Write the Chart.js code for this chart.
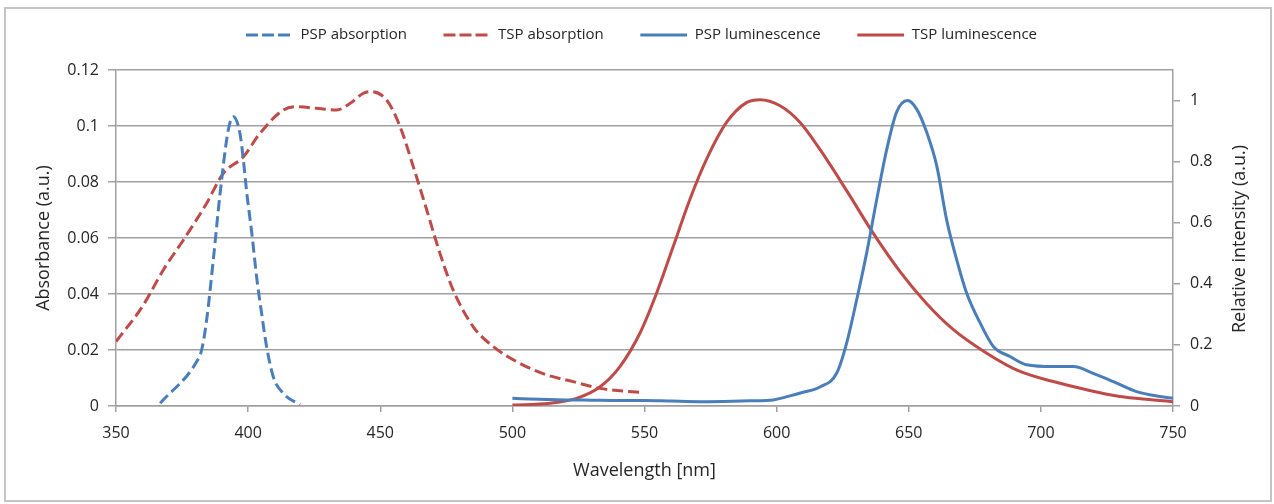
<!DOCTYPE html>
<html>
<head>
<meta charset="utf-8">
<script src="https://cdn.jsdelivr.net/npm/chart.js@4.4.1/dist/chart.umd.min.js"></script>
<style>
  html, body { margin: 0; padding: 0; background: #ffffff; }
  #wrap { position: relative; width: 1274px; height: 504px; }
</style>
</head>
<body>
<div id="wrap"><canvas id="c" width="1274" height="504"></canvas></div>
<script>
// ---------------- DATA ----------------
const seriesNames = ['PSP absorption', 'TSP absorption', 'PSP luminescence', 'TSP luminescence'];

// PSP absorption (left axis)
const pspAbsWl  = [366.7, 380.5, 382.4, 384.3, 386.8, 389.4, 392.5, 394.4, 396.9, 398.2, 399.5, 401.4, 403.2, 405.1, 407.0, 409.5, 413.3, 419.6];
const pspAbsVal = [0.001, 0.0158, 0.02, 0.0307, 0.052, 0.076, 0.0986, 0.1033, 0.0974, 0.0879, 0.076, 0.0617, 0.0462, 0.0331, 0.0212, 0.0105, 0.0045, 0.0004];

// TSP absorption (left axis)
const tspAbsWl  = [350, 360.3, 367.9, 375.5, 384.3, 390.6, 398.2, 404.5, 413.3, 418.3, 425.9, 433.5, 438.5, 443.6, 446.1, 452.4, 457.5, 462.5, 467.6, 472.6, 477.6, 485.2, 492.8, 502.9, 513.0, 523.0, 533.2, 549.6];
const tspAbsVal = [0.023, 0.036, 0.0486, 0.0593, 0.0724, 0.0831, 0.089, 0.0974, 0.1057, 0.1069, 0.1063, 0.1057, 0.108, 0.1117, 0.1123, 0.1093, 0.0998, 0.0855, 0.070, 0.0545, 0.0414, 0.0283, 0.0212, 0.0152, 0.0111, 0.0087, 0.0063, 0.0048];

// PSP luminescence (right axis)
const pspLumWl  = [500, 510, 520, 530, 540, 550, 560, 571, 580, 590, 598.7, 605, 610, 616.4, 622.7, 626.5, 630.3, 634.1, 637.9, 641.7, 645.4, 649.5, 653.0, 656.8, 660.6, 664.3, 668.1, 671.9, 677.0, 682.0, 688.3, 694.6, 704.7, 712.3, 719.8, 727.4, 736.2, 745.0, 750];
const pspLumVal = [0.025, 0.022, 0.020, 0.019, 0.018, 0.018, 0.016, 0.014, 0.015, 0.017, 0.020, 0.033, 0.045, 0.062, 0.107, 0.206, 0.348, 0.502, 0.677, 0.841, 0.962, 1.000, 0.972, 0.896, 0.786, 0.611, 0.480, 0.370, 0.272, 0.195, 0.162, 0.135, 0.129, 0.129, 0.107, 0.080, 0.047, 0.031, 0.025];

// TSP luminescence (right axis)
const tspLumWl  = [500, 514.2, 524.3, 533.2, 540.7, 548.3, 554.6, 560.9, 567.2, 573.5, 581.1, 588.7, 593.7, 601.3, 608.8, 616.4, 626.5, 636.6, 646.7, 656.8, 666.9, 679.5, 692.1, 704.7, 717.3, 729.9, 742.6, 750];
const tspLumVal = [0.003, 0.009, 0.025, 0.063, 0.129, 0.239, 0.370, 0.523, 0.677, 0.808, 0.929, 0.994, 1.003, 0.983, 0.929, 0.840, 0.705, 0.565, 0.440, 0.335, 0.250, 0.173, 0.113, 0.080, 0.053, 0.031, 0.020, 0.014];

// Axis ranges / ticks
const xMin = 350, xMax = 750, xStep = 50;
const leftMin = 0, leftMax = 0.12, leftStep = 0.02;
const rightMin = 0, rightMax = 1.1, rightStep = 0.2;
const xTitle = 'Wavelength [nm]';
const leftTitle = 'Absorbance (a.u.)';
const rightTitle = 'Relative intensity (a.u.)';

// ---------------- STYLE ----------------
const BLUE = '#4A7EBB';
const RED = '#BE4B48';
const GRID = '#a0a0a0';
const TEXT = '#262626';
const FONT = "'Open Sans', 'Noto Sans', sans-serif";

function pts(xs, ys) { return xs.map((x, i) => ({ x: x, y: ys[i] })); }

function legendSample(color, dashed) {
  const c = document.createElement('canvas');
  c.width = 56; c.height = 4;
  const g = c.getContext('2d');
  g.strokeStyle = color; g.lineWidth = 3;
  if (dashed) g.setLineDash([12, 4]);
  g.beginPath(); g.moveTo(9, 2); g.lineTo(56, 2); g.stroke();
  return c;
}
const samples = [legendSample(BLUE, true), legendSample(RED, true), legendSample(BLUE, false), legendSample(RED, false)];

const PLOT_LEFT = 116, PLOT_RIGHT = 1173, PLOT_TOP = 70, PLOT_BOTTOM = 406;
const W = 1274, H = 504;

const framePlugin = {
  id: 'frame',
  afterInit(chart) {
    const lg = chart.legend;
    if (lg) {
      const orig = lg.fit.bind(lg);
      lg.fit = function () { orig(); this.height = PLOT_TOP; };
    }
  },
  beforeDraw(chart) {
    const ctx = chart.ctx;
    ctx.save();
    ctx.fillStyle = '#ffffff';
    ctx.fillRect(0, 0, W, H);
    ctx.strokeStyle = '#c4c4c4';
    ctx.lineWidth = 2;
    ctx.strokeRect(5, 8, 1266, 493);
    ctx.restore();
  },
  afterDraw(chart) {
    const ctx = chart.ctx;
    ctx.save();
    ctx.translate(1240, 239);
    ctx.rotate(-Math.PI / 2);
    ctx.font = '18px ' + FONT;
    ctx.fillStyle = TEXT;
    ctx.textAlign = 'center';
    ctx.textBaseline = 'middle';
    ctx.fillText(rightTitle, 0, 0);
    ctx.restore();
  }
};

const common = { pointRadius: 0, pointHoverRadius: 0, borderWidth: 3, fill: false, cubicInterpolationMode: 'monotone' };

new Chart(document.getElementById('c'), {
  type: 'line',
  data: {
    datasets: [
      Object.assign({ label: seriesNames[0], data: pts(pspAbsWl, pspAbsVal), borderColor: BLUE, borderDash: [11, 5], yAxisID: 'y' }, common),
      Object.assign({ label: seriesNames[1], data: pts(tspAbsWl, tspAbsVal), borderColor: RED, borderDash: [11, 5], yAxisID: 'y' }, common),
      Object.assign({ label: seriesNames[2], data: pts(pspLumWl, pspLumVal), borderColor: BLUE, yAxisID: 'y1' }, common),
      Object.assign({ label: seriesNames[3], data: pts(tspLumWl, tspLumVal), borderColor: RED, yAxisID: 'y1' }, common)
    ]
  },
  options: {
    responsive: false,
    animation: false,
    layout: { padding: 0 },
    plugins: {
      tooltip: { enabled: false },
      legend: {
        display: true,
        position: 'top',
        labels: {
          usePointStyle: true,
          pointStyleWidth: 56,
          padding: 27.5,
          color: TEXT,
          font: { family: FONT, size: 15 },
          generateLabels: function (chart) {
            return seriesNames.map((n, i) => ({
              text: n, pointStyle: samples[i], rotation: 0,
              fillStyle: 'rgba(0,0,0,0)', strokeStyle: 'rgba(0,0,0,0)', lineWidth: 0,
              fontColor: TEXT, datasetIndex: i, hidden: false
            }));
          }
        }
      }
    },
    scales: {
      x: {
        type: 'linear', position: 'bottom', min: xMin, max: xMax,
        afterFit(s) { s.height = H - PLOT_BOTTOM; },
        ticks: { stepSize: xStep, color: TEXT, font: { family: FONT, size: 16 }, padding: 12, maxRotation: 0 },
        grid: { drawOnChartArea: false, color: GRID, tickLength: 6, lineWidth: 1.5 },
        border: { display: true, color: GRID, width: 1.5 },
        title: { display: true, text: xTitle, color: TEXT, font: { family: FONT, size: 18 }, padding: { top: 0, bottom: 22 } }
      },
      y: {
        type: 'linear', position: 'left', min: leftMin, max: leftMax,
        afterFit(s) { s.width = PLOT_LEFT; },
        ticks: { stepSize: leftStep, color: TEXT, font: { family: FONT, size: 16 }, padding: 9,
          callback: (v) => String(Math.round(v * 100) / 100) },
        grid: { color: GRID, tickLength: 8, lineWidth: 1.5 },
        border: { display: true, color: GRID, width: 1.5 },
        title: { display: true, text: leftTitle, color: TEXT, font: { family: FONT, size: 18 }, padding: { top: 33, bottom: 0 } }
      },
      y1: {
        type: 'linear', position: 'right', min: rightMin, max: rightMax,
        afterFit(s) { s.width = W - PLOT_RIGHT; },
        ticks: { stepSize: rightStep, includeBounds: false, color: TEXT, font: { family: FONT, size: 16 }, padding: 10,
          callback: (v) => String(Math.round(v * 10) / 10) },
        grid: { drawOnChartArea: false, color: GRID, tickLength: 7, lineWidth: 1.5 },
        border: { display: true, color: GRID, width: 1.5 }
      }
    }
  },
  plugins: [framePlugin]
});
</script>
</body>
</html>
